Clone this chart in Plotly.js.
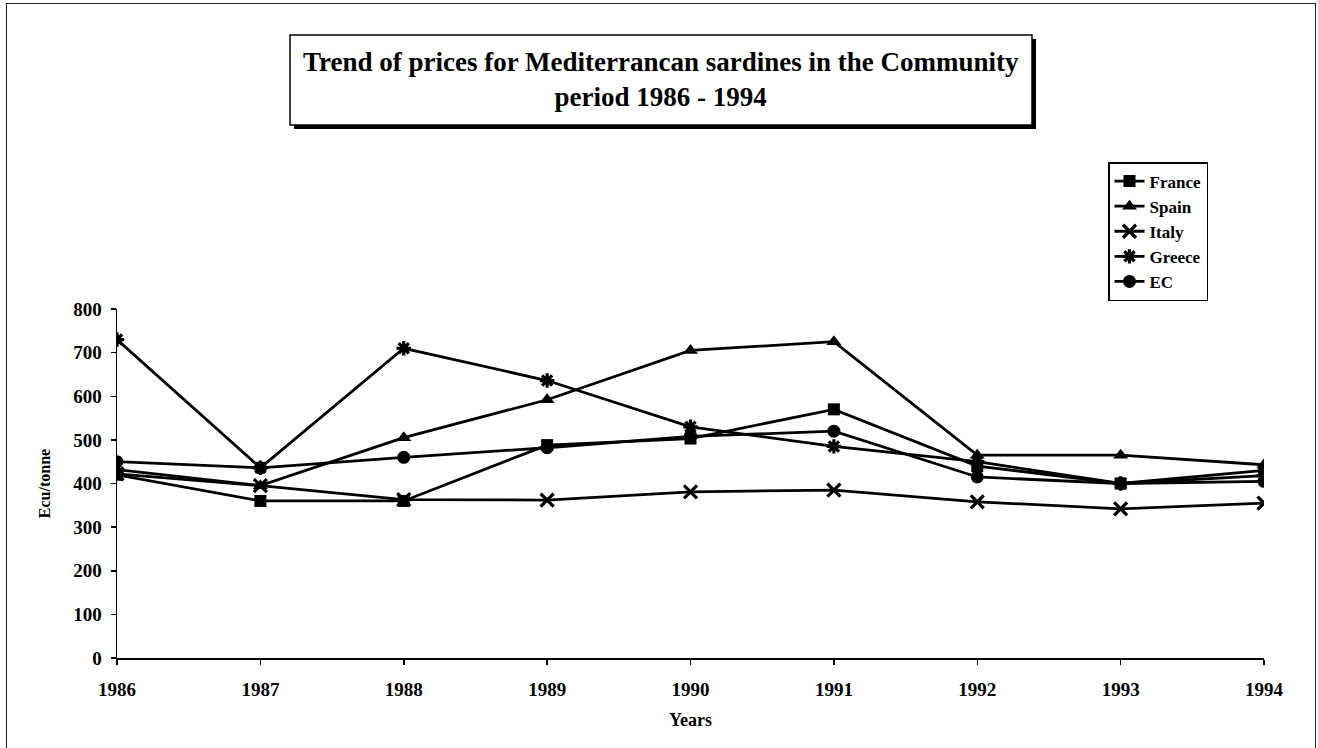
<!DOCTYPE html>
<html>
<head>
<meta charset="utf-8">
<script src="https://cdn.plot.ly/plotly-3.0.1.min.js"></script>
<style>
  html, body { margin: 0; padding: 0; background: #fff; }
  #frame { position: absolute; left: 6px; top: 3px; width: 1310px; height: 760px; border: 1.5px solid #222; box-sizing: border-box; }
  #chart { position: absolute; left: 0; top: 0; width: 1318px; height: 748px; }
</style>
</head>
<body>
<div id="frame"></div>
<div id="chart"></div>
<script>
const years = ['1986', '1987', '1988', '1989', '1990', '1991', '1992', '1993', '1994'];
const seriesNames = ['France', 'Spain', 'Italy', 'Greece', 'EC'];
const france = [420, 360, 360, 488, 503, 570, 440, 400, 430];
const spain  = [432, 395, 505, 592, 705, 725, 465, 465, 443];
const italy  = [422, 395, 363, 362, 381, 385, 358, 342, 355];
const greece = [730, 436, 710, 636, 530, 485, 450, 400, 418];
const ec     = [450, 436, 460, 482, 508, 520, 415, 400, 405];
const yTicks = [0, 100, 200, 300, 400, 500, 600, 700, 800];

const values = [france, spain, italy, greece, ec];
const symbols = ['square', 'triangle-up', 'x-thin-open', 'asterisk-open', 'circle'];
const sizes = [12, 13, 13, 12, 13];

const traces = seriesNames.map((name, i) => ({
  type: 'scatter',
  mode: 'lines+markers',
  name: name,
  x: years.map(Number),
  y: values[i],
  line: { color: '#000', width: 2.8 },
  marker: {
    symbol: symbols[i],
    size: sizes[i],
    color: '#000',
    line: { color: '#000', width: (symbols[i].indexOf('open') >= 0) ? 3.2 : 0 }
  }
}));

const L = 117, R = 1264, T = 309, B = 658;
const px = v => (v - L) / (R - L);
const py = v => (B - v) / (B - T);

const serif = 'Liberation Serif, Times New Roman, serif';

const layout = {
  width: 1318,
  height: 748,
  paper_bgcolor: 'rgba(0,0,0,0)',
  plot_bgcolor: 'rgba(0,0,0,0)',
  margin: { l: L, r: 1318 - R, t: T, b: 748 - B, pad: 0 },
  showlegend: true,
  legend: {
    x: px(1108), y: py(162), xanchor: 'left', yanchor: 'top',
    bgcolor: '#fff', bordercolor: '#000', borderwidth: 1.5,
    font: { family: serif, size: 17, color: '#000', weight: 'bold' },
    tracegroupgap: 0, itemwidth: 30
  },
  xaxis: {
    range: [1986, 1994],
    tickmode: 'array',
    tickvals: years.map(Number),
    ticktext: years,
    showline: true, linecolor: '#000', linewidth: 1.5,
    ticks: 'outside', ticklen: 5, tickcolor: '#000', tickwidth: 1.5,
    ticklabelstandoff: 9,
    showgrid: false, zeroline: false,
    tickfont: { family: serif, size: 19, color: '#000', weight: 'bold' },
    title: { text: '<b>Years</b>', font: { family: serif, size: 18, color: '#000' }, standoff: 14 }
  },
  yaxis: {
    range: [0, 800],
    tickmode: 'array',
    tickvals: yTicks,
    ticktext: yTicks.map(String),
    showline: true, linecolor: '#000', linewidth: 1.5,
    ticks: 'outside', ticklen: 5, tickcolor: '#000', tickwidth: 1.5,
    ticklabelstandoff: 5,
    showgrid: false, zeroline: false,
    tickfont: { family: serif, size: 19, color: '#000', weight: 'bold' },
    title: { text: '<b>Ecu/tonne</b>', font: { family: serif, size: 16, color: '#000' }, standoff: 18 }
  },
  shapes: [
    { type: 'rect', xref: 'paper', yref: 'paper',
      x0: px(294), x1: px(1036), y0: py(129), y1: py(39),
      fillcolor: '#000', line: { width: 0 } },
    { type: 'rect', xref: 'paper', yref: 'paper',
      x0: px(290), x1: px(1032), y0: py(125), y1: py(35),
      fillcolor: '#fff', line: { color: '#000', width: 1.5 } }
  ],
  annotations: [
    { xref: 'paper', yref: 'paper', x: px(661), y: py(79), xanchor: 'center', yanchor: 'middle',
      showarrow: false, align: 'center',
      text: '<b>Trend of prices for Mediterrancan sardines in the Community</b><br><b>period 1986 - 1994</b>',
      font: { family: serif, size: 27, color: '#000' } }
  ]
};

Plotly.newPlot('chart', traces, layout, { displayModeBar: false, staticPlot: true });
</script>
</body>
</html>
